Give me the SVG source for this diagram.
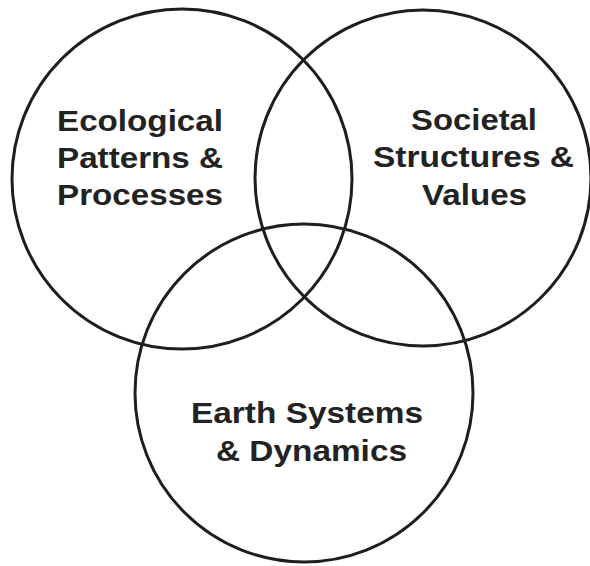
<svg xmlns="http://www.w3.org/2000/svg" width="590" height="566" viewBox="0 0 590 566">
<style>
.c{fill:none;stroke:#1e1e1e;stroke-width:3}
.t{font-family:"Liberation Sans",Arial,sans-serif;font-weight:bold;font-size:30px;fill:#222}
</style>
<rect width="590" height="566" fill="#fff"/>
<g id="ecological">
<circle class="c" cx="182" cy="179" r="170"/>
<text class="t" x="57" y="131" textLength="166" lengthAdjust="spacingAndGlyphs">Ecological</text>
<text class="t" x="57" y="168" textLength="166" lengthAdjust="spacingAndGlyphs">Patterns &amp;</text>
<text class="t" x="57" y="205" textLength="166" lengthAdjust="spacingAndGlyphs">Processes</text>
</g>
<g id="societal">
<circle class="c" cx="423" cy="178" r="168"/>
<text class="t" x="411" y="130" textLength="126" lengthAdjust="spacingAndGlyphs">Societal</text>
<text class="t" x="373" y="167" textLength="201" lengthAdjust="spacingAndGlyphs">Structures &amp;</text>
<text class="t" x="422" y="205" textLength="105" lengthAdjust="spacingAndGlyphs">Values</text>
</g>
<g id="earth">
<circle class="c" cx="304" cy="393" r="169"/>
<text class="t" x="191" y="423" textLength="232" lengthAdjust="spacingAndGlyphs">Earth Systems</text>
<text class="t" x="216" y="461" textLength="191" lengthAdjust="spacingAndGlyphs">&amp; Dynamics</text>
</g>
<g id="connectors"/>
</svg>
